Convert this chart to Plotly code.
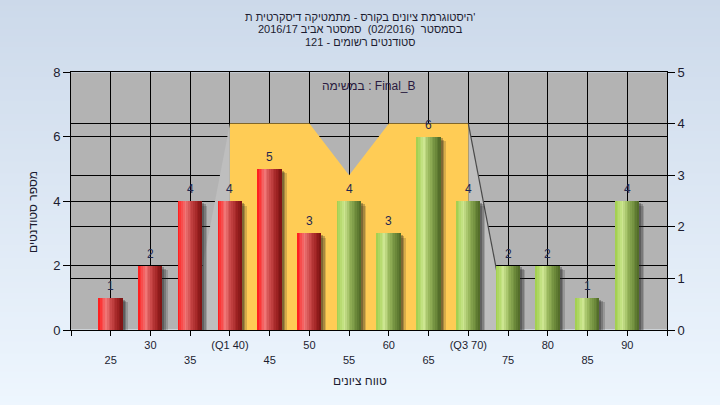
import plotly.graph_objects as go

# ---------------- data ----------------
grade_bins = [25, 30, 35, 40, 45, 50, 55, 60, 65, 70, 75, 80, 85, 90]
student_counts = [1, 2, 4, 4, 5, 3, 4, 3, 6, 4, 2, 2, 1, 4]
pass_threshold = 55

tick_values = [20, 25, 30, 35, 40, 45, 50, 55, 60, 65, 70, 75, 80, 85, 90, 95]
tick_labels = ["", "25", "30", "35", "(Q1 40)", "45", "50", "55", "60", "65",
               "(Q3 70)", "75", "80", "85", "90", ""]

# box-plot overlay (right axis units)
q1 = 40
q3 = 70
median = 55
notch_low = 50
notch_high = 60
box_top = 4
notch_bottom = 3
whisker_low = 35
whisker_high = 75

title_lines = [
    "היסטוגרמת ציונים בקורס - מתמטיקה דיסקרטית ת'",
    "בסמסטר  (02/2016)  סמסטר אביב 2016/17",
    "סטודנטים רשומים - 121",
]
task_label = "במשימה : Final_B"
x_title = "טווח ציונים"
y_title = "מספר סטודנטים"

# ---------------- styling helpers ----------------
FONT = "Liberation Sans, Arial, sans-serif"
TXT = "#1c1c30"


def lerp(c1, c2, t):
    return tuple(int(round(a + (b - a) * t)) for a, b in zip(c1, c2))


def grad(stops, t):
    for (p0, c0), (p1, c1) in zip(stops, stops[1:]):
        if p0 <= t <= p1:
            return lerp(c0, c1, (t - p0) / (p1 - p0) if p1 > p0 else 0)
    return stops[-1][1]


red_stops = [(0.0, (255, 20, 20)), (0.12, (250, 60, 60)), (0.32, (240, 118, 118)),
             (0.55, (200, 70, 70)), (0.8, (160, 35, 35)), (1.0, (122, 18, 18))]
green_stops = [(0.0, (160, 205, 75)), (0.12, (175, 215, 100)), (0.32, (205, 230, 145)),
               (0.55, (150, 180, 90)), (0.8, (110, 140, 60)), (1.0, (78, 104, 38))]

fig = go.Figure()

# ---------------- box overlay on right axis (y) ----------------
fig.add_trace(go.Scatter(
    x=[whisker_low, q1, q1, whisker_low], y=[0, box_top, 0, 0],
    fill="toself", fillcolor="#BEBEBE", mode="lines", line=dict(width=0),
    hoverinfo="skip", showlegend=False, xaxis="x", yaxis="y"))
fig.add_trace(go.Scatter(
    x=[q3, whisker_high, q3, q3], y=[box_top, 0, 0, box_top],
    fill="toself", fillcolor="#BEBEBE", mode="lines", line=dict(width=0),
    hoverinfo="skip", showlegend=False, xaxis="x", yaxis="y"))
fig.add_trace(go.Scatter(
    x=[q1, notch_low, median, notch_high, q3, q3, q1, q1],
    y=[box_top, box_top, notch_bottom, box_top, box_top, 0, 0, box_top],
    fill="toself", fillcolor="#FFCC55", mode="lines", line=dict(width=0),
    hoverinfo="skip", showlegend=False, xaxis="x", yaxis="y"))
fig.add_trace(go.Scatter(
    x=[q3, whisker_high], y=[box_top, 0], mode="lines",
    line=dict(color="#4a4a4a", width=1.2),
    hoverinfo="skip", showlegend=False, xaxis="x", yaxis="y"))

# ---------------- bars on left axis (y2) ----------------
bar_w = 3.0
# shadows
for k, (shift, drop, alpha) in enumerate([(0.25, 0.06, 0.30), (0.45, 0.1, 0.25), (0.65, 0.14, 0.18)]):
    fig.add_trace(go.Bar(
        x=grade_bins, y=[v - drop for v in student_counts],
        width=bar_w, offset=-bar_w / 2 + shift,
        marker=dict(color=f"rgba(30,30,30,{alpha})", line=dict(width=0)),
        hoverinfo="skip", showlegend=False, xaxis="x", yaxis="y2"))

n_strips = 14
step = bar_w / n_strips
for i in range(n_strips):
    t = (i + 0.5) / n_strips
    rc = "rgb(%d,%d,%d)" % grad(red_stops, t)
    gc = "rgb(%d,%d,%d)" % grad(green_stops, t)
    colors = [gc if g >= pass_threshold else rc for g in grade_bins]
    fig.add_trace(go.Bar(
        x=grade_bins, y=student_counts,
        width=step * 1.12 if i < n_strips - 1 else step,
        offset=-bar_w / 2 + i * step,
        marker=dict(color=colors, line=dict(width=0)),
        hoverinfo="skip", showlegend=False, xaxis="x", yaxis="y2"))

# ---------------- background gradient (margins only) ----------------
top_c = (204, 217, 234)
bot_c = (238, 246, 254)
H = 405.0
plot_top_px, plot_bot_px = 72.0, 330.0
plot_l_px, plot_r_px = 71.0, 667.0
plot_h = plot_bot_px - plot_top_px
plot_w = plot_r_px - plot_l_px


def py(px):
    return (plot_bot_px - px) / plot_h


def pxx(px):
    return (px - plot_l_px) / plot_w


def pxc(px):
    return "rgb(%d,%d,%d)" % lerp(top_c, bot_c, px / H)


shapes = []
xl0, xl1 = pxx(-5), 0
xr0, xr1 = 1, pxx(725)
bands = []
seg = 6
p = 0.0
while p < H:
    q = min(p + seg, H)
    for a, b in [(p, min(q, plot_top_px)), (max(p, plot_top_px), min(q, plot_bot_px)), (max(p, plot_bot_px), q)]:
        if b > a:
            bands.append((a, b))
    p = q
for a, b in bands:
    c = pxc((a + b) / 2)
    inside = a >= plot_top_px and b <= plot_bot_px
    ranges = [(xl0, xl1), (xr0, xr1)] if inside else [(xl0, xr1)]
    for x0, x1 in ranges:
        shapes.append(dict(type="rect", xref="paper", yref="paper", x0=x0, x1=x1,
                           y0=py(b) - 0.002, y1=py(a) + 0.002, fillcolor=c,
                           line=dict(width=0), layer="below"))

# ---------------- annotations ----------------
annotations = []
for line, ypx in zip(title_lines, [17, 29.5, 42]):
    annotations.append(dict(text=line, xref="paper", yref="paper",
                            x=pxx(360), y=py(ypx), xanchor="center", yanchor="middle",
                            showarrow=False, font=dict(family=FONT, size=11, color=TXT)))
annotations += [
    dict(text=task_label, xref="paper", yref="paper",
         x=pxx(369), y=py(86), xanchor="center", yanchor="middle",
         showarrow=False, font=dict(family=FONT, size=12, color="#2a1a40")),
    dict(text=x_title, xref="paper", yref="paper",
         x=pxx(360), y=py(381), xanchor="center", yanchor="middle",
         showarrow=False, font=dict(family=FONT, size=12, color=TXT)),
    dict(text=y_title, xref="paper", yref="paper", textangle=-90,
         x=pxx(33), y=py(212), xanchor="center", yanchor="middle",
         showarrow=False, font=dict(family=FONT, size=12, color=TXT)),
]
for g, v in zip(grade_bins, student_counts):
    annotations.append(dict(text=str(v), x=g, y=v, xref="x", yref="y2",
                            yshift=12, xanchor="center", yanchor="middle",
                            showarrow=False,
                            font=dict(family=FONT, size=12, color="#1f2850")))

# ---------------- layout ----------------
axis_common = dict(showline=True, linecolor="black", linewidth=1, ticks="outside",
                   tickcolor="black", gridcolor="black", gridwidth=1, zeroline=False)

fig.update_layout(
    width=720, height=405,
    margin=dict(l=71, r=53, t=72, b=75),
    paper_bgcolor="#E2EBF7",
    plot_bgcolor="#B3B3B3",
    barmode="overlay",
    bargap=0,
    showlegend=False,
    hovermode=False,
    font=dict(family=FONT, color=TXT),
    shapes=shapes,
    annotations=annotations,
    xaxis=dict(range=[20, 95], tickmode="array", tickvals=tick_values,
               ticktext=[("<br>" + t if i % 2 == 1 else t) for i, t in enumerate(tick_labels)],
               ticklen=5, tickangle=0, mirror=True,
               tickfont=dict(family=FONT, size=11, color=TXT), showgrid=True,
               **axis_common),
    yaxis=dict(range=[0, 5], dtick=1, side="right", ticklen=7, showgrid=True,
               tickfont=dict(family=FONT, size=13, color=TXT), **axis_common),
    yaxis2=dict(range=[0, 8], dtick=2, side="left", overlaying="y", ticklen=7,
                showgrid=True, tickfont=dict(family=FONT, size=13, color=TXT),
                **axis_common),
)

fig.write_html("out.html", config={"displayModeBar": False},
               post_script="document.body.style.margin='0';")
